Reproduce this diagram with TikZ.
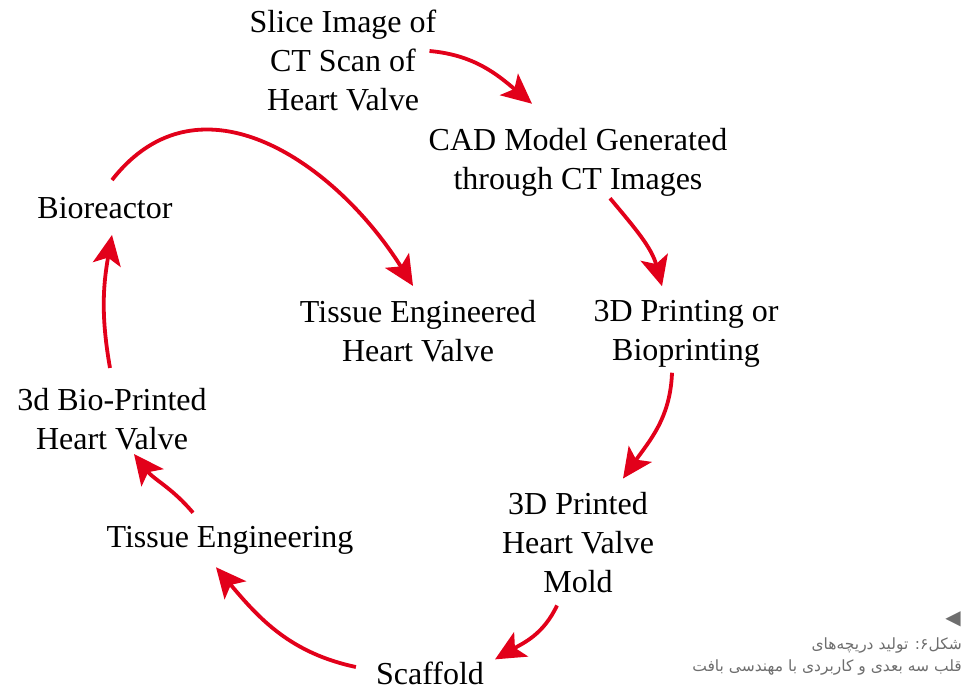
\documentclass[tikz,border=0pt]{standalone}
\usepackage{fontspec}
\setmainfont{Liberation Serif}
\newfontfamily\farsifont[Script=Arabic]{DejaVu Sans}
\TeXXeTstate=1
\usepackage{tikz}
\usetikzlibrary{arrows.meta}
\usepackage{xcolor}
\definecolor{flowred}{RGB}{226,0,26}
\definecolor{capgray}{RGB}{110,110,110}

\begin{document}
\begin{tikzpicture}[x=1pt, y=1pt,
		stage/.style={align=center, inner sep=0pt, font=\fontsize{32}{39}\selectfont},
		flow/.style={draw=flowred, line width=3.8pt, -{Stealth[length=30pt,width=28pt,inset=7pt]}}]
			\useasboundingbox (0,0) rectangle (964,-692);
			% stages of the cycle
			\node[stage] (slice) at (343,-60) {Slice Image of\\CT Scan of\\Heart Valve};
			\node[stage] (cad) at (578,-162) {CAD Model Generated\\through CT Images};
			\node[stage] (print) at (686,-334) {3D Printing or\\Bioprinting};
			\node[stage] (mold) at (578,-543) {3D Printed\\Heart Valve\\Mold};
			\node[stage] (scaffold) at (430,-673) {Scaffold};
			\node[stage] (tissue) at (230,-540) {Tissue Engineering};
			\node[stage] (bioprinted) at (112,-419) {3d Bio-Printed\\Heart Valve};
			\node[stage] (bioreactor) at (105,-208) {Bioreactor};
			\node[stage] (engineered) at (418,-331) {Tissue Engineered\\Heart Valve};
			% arrows
			\draw[flow] ([shift={(-7,9)}]slice.east) to[out=-5, in=140] ([shift={(-46,24)}]cad.north);
			\draw[flow] ([shift={(32,-2)}]cad.south) to[out=-50, in=105] ([shift={(-24,14)}]print.north);
			\draw[flow] ([shift={(-14,-5)}]print.south) to[out=-92, in=55] ([shift={(45,14)}]mold.north);
			\draw[flow] ([shift={(-21,-12)}]mold.south) to[out=-115, in=30] ([shift={(65,2)}]scaffold.north);
			\draw[flow] ([shift={(-20,6)}]scaffold.west) to[out=168, in=-50] ([shift={(-14,-13)}]tissue.south);
			\draw[flow] ([shift={(-37,13)}]tissue.north) to[out=130, in=-52] ([shift={(22,-4)}]bioprinted.south);
			\draw[flow] ([shift={(-2,20)}]bioprinted.north) to[out=100, in=-100] ([shift={(7,-16)}]bioreactor.south);
			\draw[flow] ([shift={(7,17)}]bioreactor.north) to[out=52, in=122, looseness=1.15] ([shift={(-5,14)}]engineered.north);
			% caption
			\node[text=capgray, font=\farsifont\fontsize{20}{20}\selectfont, inner sep=0pt] (mark) at (953,-619) {◀};
			\node[text=capgray, font=\farsifont\fontsize{15.5}{22}\selectfont, align=right, anchor=north east, inner sep=0pt] (caption) at (962,-638)
				{\beginR شکل۶: تولید دریچه‌های\endR\\\beginR قلب سه بعدی و کاربردی با مهندسی بافت\endR};
		\end{tikzpicture}
\end{document}
